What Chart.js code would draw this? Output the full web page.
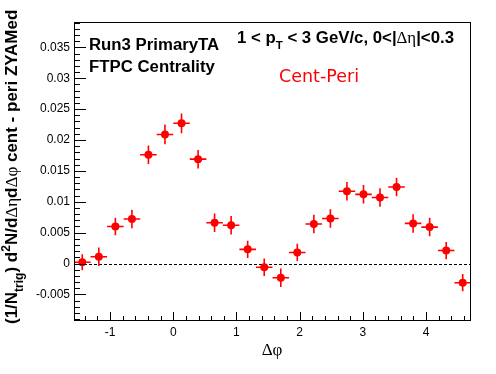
<!DOCTYPE html>
<html>
<head>
<meta charset="utf-8">
<script src="https://cdn.jsdelivr.net/npm/chart.js@4.4.1/dist/chart.umd.min.js"></script>
<style>
  html, body { margin: 0; padding: 0; background: #fff; }
  canvas { display: block; }
</style>
</head>
<body>
<canvas id="c" width="496" height="374"></canvas>
<script>
// bin centres in delta-phi (24 bins from -pi/2 to 3pi/2)
var dphi = [-1.440, -1.178, -0.916, -0.654, -0.393, -0.131, 0.131, 0.393,
            0.654, 0.916, 1.178, 1.440, 1.702, 1.963, 2.225, 2.487,
            2.749, 3.011, 3.272, 3.534, 3.796, 4.058, 4.320, 4.581];
var binHalfWidth = 0.131;

// cent - peri, ZYAM subtracted
var corr = [0.0002, 0.0011, 0.0060, 0.0072, 0.0176, 0.0209, 0.0227, 0.0169,
            0.0066, 0.0062, 0.0023, -0.0006, -0.0023, 0.0018, 0.0064, 0.0073,
            0.0117, 0.0112, 0.0107, 0.0124, 0.0065, 0.0059, 0.0021, -0.0031];
var corrErr = [0.0013, 0.0015, 0.0014, 0.0015, 0.0015, 0.0016, 0.0016, 0.0015,
               0.0015, 0.0015, 0.0014, 0.0014, 0.0015, 0.0014, 0.0015, 0.0015,
               0.0015, 0.0015, 0.0015, 0.0015, 0.0015, 0.0015, 0.0014, 0.0014];

var xTickValues = [-1, 0, 1, 2, 3, 4];
var xTickLabels = ['-1', '0', '1', '2', '3', '4'];
var yTickValues = [-0.005, 0, 0.005, 0.01, 0.015, 0.02, 0.025, 0.03, 0.035];
var yTickLabels = ['-0.005', '0', '0.005', '0.01', '0.015', '0.02', '0.025', '0.03', '0.035'];

var RED = '#ff0000';
var BOLD = 'bold 16.8px "Liberation Sans"';
var BOLD_SUB = 'bold 11.5px "Liberation Sans"';
var GREEK = '16.8px "Liberation Serif"';

function labelFor(values, labels, v) {
  for (var i = 0; i < values.length; i++) {
    if (Math.abs(values[i] - v) < 1e-9) return labels[i];
  }
  return '';
}

function drawParts(ctx, x, y, parts) {
  parts.forEach(function (p) {
    ctx.font = p.f;
    ctx.fillText(p.t, x, y + (p.dy || 0));
    x += ctx.measureText(p.t).width;
  });
  return x;
}

var rootStyle = {
  id: 'rootStyle',
  beforeDatasetsDraw: function (chart) {
    var ctx = chart.ctx, a = chart.chartArea;
    var xs = chart.scales.x, ys = chart.scales.y;
    ctx.save();
    // dashed zero line
    var y0 = Math.round(ys.getPixelForValue(0)) + 0.5;
    ctx.strokeStyle = '#000';
    ctx.lineWidth = 1;
    ctx.setLineDash([3, 2]);
    ctx.beginPath();
    ctx.moveTo(a.left, y0);
    ctx.lineTo(a.right, y0);
    ctx.stroke();
    ctx.setLineDash([]);
    // error bars
    ctx.strokeStyle = RED;
    ctx.lineWidth = 1.6;
    for (var i = 0; i < dphi.length; i++) {
      var px = xs.getPixelForValue(dphi[i]);
      var py = ys.getPixelForValue(corr[i]);
      ctx.beginPath();
      ctx.moveTo(xs.getPixelForValue(dphi[i] - binHalfWidth), py);
      ctx.lineTo(xs.getPixelForValue(dphi[i] + binHalfWidth), py);
      ctx.moveTo(px, ys.getPixelForValue(corr[i] - corrErr[i]));
      ctx.lineTo(px, ys.getPixelForValue(corr[i] + corrErr[i]));
      ctx.stroke();
    }
    ctx.restore();
  },
  afterDraw: function (chart) {
    var ctx = chart.ctx, a = chart.chartArea;
    var xs = chart.scales.x, ys = chart.scales.y;
    ctx.save();
    ctx.strokeStyle = '#000';
    ctx.lineWidth = 1;
    // frame
    ctx.strokeRect(Math.round(a.left) + 0.5, Math.round(a.top) + 0.5,
                   Math.round(a.right - a.left) - 1, Math.round(a.bottom - a.top) - 1);
    ctx.beginPath();
    // x ticks (inside)
    for (var k = -7; k <= 23; k++) {
      var xv = k * 0.2;
      if (xv < xs.min || xv > xs.max) continue;
      var xp = Math.round(xs.getPixelForValue(xv)) + 0.5;
      var len = (k % 5 === 0) ? 9 : 5;
      ctx.moveTo(xp, a.bottom);
      ctx.lineTo(xp, a.bottom - len);
    }
    // y ticks (inside)
    for (var j = -9; j <= 39; j++) {
      var yv = j * 0.001;
      var yp = Math.round(ys.getPixelForValue(yv)) + 0.5;
      var ylen = (j % 5 === 0) ? 12 : 6;
      ctx.moveTo(a.left, yp);
      ctx.lineTo(a.left + ylen, yp);
    }
    ctx.stroke();

    // texts
    ctx.fillStyle = '#000';
    ctx.textBaseline = 'alphabetic';
    ctx.textAlign = 'left';
    ctx.font = BOLD;
    ctx.fillText('Run3 PrimaryTA', 89, 50);
    ctx.fillText('FTPC Centrality', 89, 72);

    drawParts(ctx, 237, 43, [
      { t: '1 < p', f: BOLD },
      { t: 'T', f: BOLD_SUB, dy: 6 },
      { t: ' < 3 GeV/c, 0<|', f: BOLD },
      { t: '\u0394\u03b7', f: GREEK },
      { t: '|<0.3', f: BOLD }
    ]);

    ctx.fillStyle = RED;
    ctx.font = '17.5px "DejaVu Sans"';
    ctx.fillText('Cent-Peri', 279, 82);

    // x axis title
    ctx.fillStyle = '#000';
    ctx.font = '17px "Liberation Serif"';
    ctx.textAlign = 'center';
    ctx.fillText('\u0394\u03c6', 272, 355);

    // y axis title (rotated)
    ctx.textAlign = 'left';
    ctx.translate(17, 0);
    ctx.rotate(-Math.PI / 2);
    drawParts(ctx, -324, 0, [
      { t: '(1/N', f: 'bold 17px "Liberation Sans"' },
      { t: 'trig', f: 'bold 12px "Liberation Sans"', dy: 6 },
      { t: ') d', f: 'bold 17px "Liberation Sans"' },
      { t: '2', f: 'bold 12px "Liberation Sans"', dy: -7 },
      { t: 'N/d', f: 'bold 17px "Liberation Sans"' },
      { t: '\u0394\u03b7', f: '17px "Liberation Serif"' },
      { t: 'd', f: 'bold 17px "Liberation Sans"' },
      { t: '\u0394\u03c6', f: '17px "Liberation Serif"' },
      { t: ' cent - peri ZYAMed', f: 'bold 17px "Liberation Sans"' }
    ]);
    ctx.restore();
  }
};

new Chart(document.getElementById('c').getContext('2d'), {
  type: 'scatter',
  data: {
    datasets: [{
      data: dphi.map(function (x, i) { return { x: x, y: corr[i] }; }),
      backgroundColor: RED,
      borderWidth: 0,
      pointRadius: 4,
      pointHoverRadius: 4
    }]
  },
  options: {
    responsive: false,
    animation: false,
    devicePixelRatio: 1,
    layout: { padding: { left: 0, top: 22, right: 25, bottom: 0 } },
    plugins: { legend: { display: false }, tooltip: { enabled: false } },
    scales: {
      x: {
        type: 'linear',
        min: -Math.PI / 2,
        max: 3 * Math.PI / 2,
        grid: { display: false, drawTicks: false },
        border: { display: false },
        afterBuildTicks: function (s) {
          s.ticks = xTickValues.map(function (v) { return { value: v }; });
        },
        afterFit: function (s) { s.height = 53; },
        ticks: {
          autoSkip: false,
          maxRotation: 0,
          padding: 4,
          color: '#000',
          font: { family: '"Liberation Sans"', size: 12 },
          callback: function (v) { return labelFor(xTickValues, xTickLabels, v); }
        }
      },
      y: {
        type: 'linear',
        min: -0.0093,
        max: 0.0391,
        grid: { display: false, drawTicks: false },
        border: { display: false },
        afterBuildTicks: function (s) {
          s.ticks = yTickValues.map(function (v) { return { value: v }; });
        },
        afterFit: function (s) { s.width = 74; },
        ticks: {
          autoSkip: false,
          padding: 4,
          color: '#000',
          font: { family: '"Liberation Sans"', size: 12 },
          callback: function (v) { return labelFor(yTickValues, yTickLabels, v); }
        }
      }
    }
  },
  plugins: [rootStyle]
});
</script>
</body>
</html>
